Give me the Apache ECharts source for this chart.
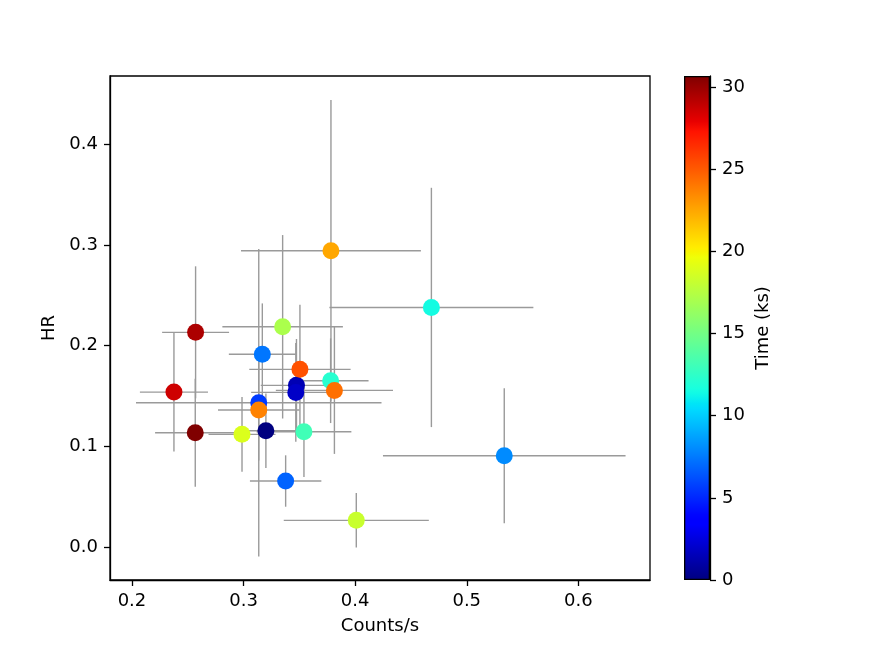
<!DOCTYPE html>
<html>
<head>
<meta charset="utf-8">
<script src="https://cdn.jsdelivr.net/npm/echarts@6/dist/echarts.min.js"></script>
<style>
  html, body { margin: 0; padding: 0; background: #fff; }
  #chart { width: 872px; height: 653px; }
</style>
</head>
<body>
<div id="chart"></div>
<script>
// data
const counts    = [0.320, 0.3474, 0.3468, 0.3136, 0.3377, 0.3168, 0.5336, 0.4683, 0.378, 0.3541,
                   0.335, 0.401, 0.2986, 0.3783, 0.3136, 0.3814, 0.3505, 0.2376, 0.257, 0.2567];
const hr        = [0.1157, 0.1607, 0.1537, 0.1435, 0.0658, 0.1915, 0.0909, 0.238, 0.1653, 0.1147,
                   0.2188, 0.0268, 0.1121, 0.2942, 0.1362, 0.1557, 0.1766, 0.154, 0.2133, 0.1137];
const countsErr = [0.027, 0.032, 0.040, 0.110, 0.032, 0.030, 0.1087, 0.0914, 0.034, 0.0425,
                   0.054, 0.065, 0.030, 0.0806, 0.0365, 0.0525, 0.0454, 0.0305, 0.030, 0.036];
const hrErr     = [0.037, 0.046, 0.049, 0.1525, 0.0255, 0.0505, 0.067, 0.1187, 0.042, 0.045,
                   0.091, 0.027, 0.037, 0.1495, 0.05, 0.063, 0.064, 0.059, 0.0655, 0.0536];
const timeKs    = [0.0, 1.4, 1.9, 5.6, 6.8, 7.4, 8.0, 11.5, 12.2, 13.1,
                   17.1, 18.2, 18.9, 22.5, 23.7, 24.3, 25.3, 28.6, 29.5, 30.67];
const xTicks = [0.2, 0.3, 0.4, 0.5, 0.6];
const yTicks = [0.0, 0.1, 0.2, 0.3, 0.4];
const cbTicks = [0, 5, 10, 15, 20, 25, 30];

const cbMin = 0;
const cbMax = Math.max(...timeKs);

// matplotlib "jet"
const jetData = {
  r: [[0, 0], [0.35, 0], [0.66, 1], [0.89, 1], [1, 0.5]],
  g: [[0, 0], [0.125, 0], [0.375, 1], [0.64, 1], [0.91, 0], [1, 0]],
  b: [[0, 0.5], [0.11, 1], [0.34, 1], [0.65, 0], [1, 0]]
};
function interp(pts, n) {
  for (let i = 1; i < pts.length; i++) {
    if (n <= pts[i][0]) {
      const t = (n - pts[i - 1][0]) / (pts[i][0] - pts[i - 1][0]);
      return pts[i - 1][1] + t * (pts[i][1] - pts[i - 1][1]);
    }
  }
  return pts[pts.length - 1][1];
}
function jet(n) {
  const c = ['r', 'g', 'b'].map(k => Math.round(255 * interp(jetData[k], n)));
  return 'rgb(' + c.join(',') + ')';
}
const jetColors = [];
const jetStops = [];
for (let i = 0; i <= 100; i++) {
  jetColors.push(jet(i / 100));
  jetStops.push({ offset: i / 100, color: jet(i / 100) });
}

const pts = counts.map((c, i) => [c, hr[i], timeKs[i]]);
const errs = counts.map((c, i) => [c, hr[i], countsErr[i], hrErr[i]]);

const font = 'DejaVu Sans';
const labelStyle = { color: '#000', fontSize: 18, fontFamily: font };

const chart = echarts.init(document.getElementById('chart'));
chart.setOption({
  animation: false,
  backgroundColor: '#fff',
  grid: [
    { left: 110, top: 76, width: 540, height: 504, show: true, borderColor: '#000', borderWidth: 1.3 },
    { left: 684, top: 76, width: 26, height: 504 }
  ],
  xAxis: [
    {
      type: 'value', gridIndex: 0, min: 0.1803, max: 0.6642,
      name: 'Counts/s', nameLocation: 'middle', nameGap: 37,
      nameTextStyle: labelStyle,
      axisLine: { onZero: false, lineStyle: { color: '#000', width: 1.3 } },
      axisTick: { show: true, length: 6, customValues: xTicks, lineStyle: { color: '#000', width: 1.3 } },
      axisLabel: Object.assign({ margin: 12, customValues: xTicks, formatter: v => v.toFixed(1) }, labelStyle),
      splitLine: { show: false }
    },
    { type: 'category', gridIndex: 1, data: [''], show: false }
  ],
  yAxis: [
    {
      type: 'value', gridIndex: 0, min: -0.0324, max: 0.4676,
      name: 'HR', nameLocation: 'middle', nameGap: 52, nameRotate: 90,
      nameTextStyle: labelStyle,
      axisLine: { show: true, onZero: false, lineStyle: { color: '#000', width: 1.3 } },
      axisTick: { show: true, length: 6, customValues: yTicks, lineStyle: { color: '#000', width: 1.3 } },
      axisLabel: Object.assign({ margin: 12, customValues: yTicks, formatter: v => v.toFixed(1) }, labelStyle),
      splitLine: { show: false }
    },
    {
      type: 'value', gridIndex: 1, position: 'right', min: cbMin, max: cbMax,
      name: 'Time (ks)', nameLocation: 'middle', nameGap: 44, nameRotate: 90,
      nameTextStyle: labelStyle,
      axisLine: { show: true, onZero: false, lineStyle: { color: '#000', width: 1.3 } },
      axisTick: { show: true, length: 6, customValues: cbTicks, lineStyle: { color: '#000', width: 1.3 } },
      axisLabel: Object.assign({ margin: 12, customValues: cbTicks }, labelStyle),
      splitLine: { show: false }
    }
  ],
  visualMap: {
    show: false, type: 'continuous', seriesIndex: 1, dimension: 2,
    min: cbMin, max: cbMax, inRange: { color: jetColors }
  },
  series: [
    {
      // error bars
      type: 'custom', xAxisIndex: 0, yAxisIndex: 0, z: 1,
      data: errs,
      renderItem: (params, api) => {
        const x = api.value(0), y = api.value(1), xe = api.value(2), ye = api.value(3);
        const l = api.coord([x - xe, y]), r = api.coord([x + xe, y]);
        const t = api.coord([x, y + ye]), b = api.coord([x, y - ye]);
        const style = { stroke: '#9a9a9a', lineWidth: 1.4 };
        return {
          type: 'group',
          children: [
            { type: 'line', shape: { x1: l[0], y1: l[1], x2: r[0], y2: r[1] }, style },
            { type: 'line', shape: { x1: t[0], y1: t[1], x2: b[0], y2: b[1] }, style }
          ]
        };
      }
    },
    {
      type: 'scatter', xAxisIndex: 0, yAxisIndex: 0, z: 3,
      symbolSize: 17, data: pts,
      itemStyle: { opacity: 1 }
    },
    {
      // colorbar
      type: 'bar', xAxisIndex: 1, yAxisIndex: 1, barWidth: '100%',
      data: [cbMax],
      itemStyle: {
        color: new echarts.graphic.LinearGradient(0, 1, 0, 0, jetStops),
        borderColor: '#000', borderWidth: 1.3
      }
    }
  ]
});
</script>
</body>
</html>
